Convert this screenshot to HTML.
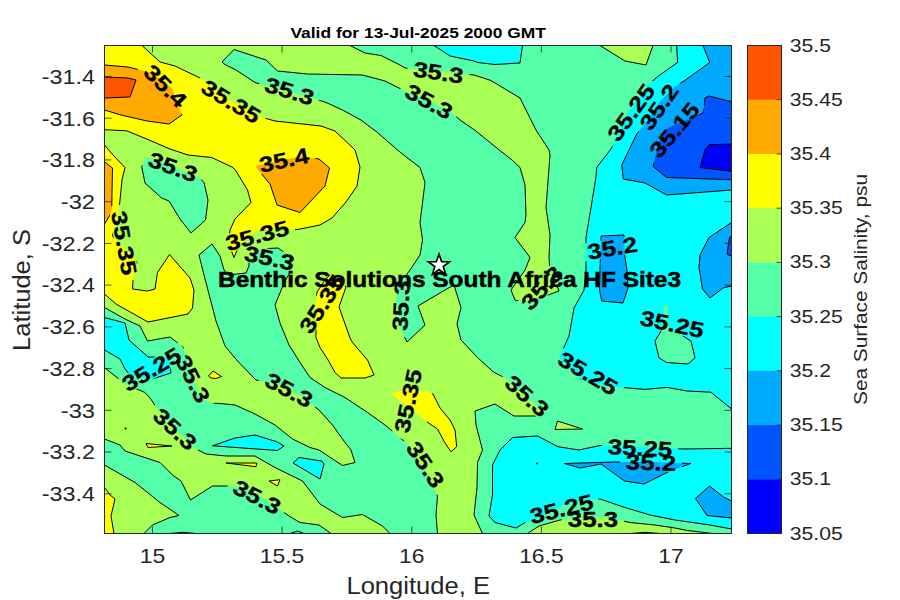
<!DOCTYPE html>
<html><head><meta charset="utf-8"><title>Sea Surface Salinity</title>
<style>
html,body{margin:0;padding:0;background:#fff;}
body{width:900px;height:600px;overflow:hidden;font-family:"Liberation Sans",sans-serif;}
svg{display:block;}
text{font-family:"Liberation Sans",sans-serif;}
.tk{font-size:20.6px;fill:#262626;}
.cl{font-size:21.6px;font-weight:bold;fill:#000;stroke:#000;stroke-width:0.3px;}
</style></head><body>
<svg width="900" height="600" viewBox="0 0 900 600">
<rect x="0" y="0" width="900" height="600" fill="#ffffff"/>
<defs>
<clipPath id="pc"><rect x="104.5" y="45.5" width="627.0" height="488.0"/></clipPath>
<mask id="lm" maskUnits="userSpaceOnUse" x="0" y="0" width="900" height="600"><rect x="0" y="0" width="900" height="600" fill="#fff"/>
<rect x="134.3" y="77.0" width="62.3" height="18.0" fill="#000" transform="rotate(45 165.5 86.0)"/>
<rect x="192.7" y="92.5" width="76.5" height="18.0" fill="#000" transform="rotate(31 231.0 101.5)"/>
<rect x="258.3" y="82.0" width="62.3" height="18.0" fill="#000" transform="rotate(17 289.5 91.0)"/>
<rect x="407.2" y="63.4" width="62.3" height="18.0" fill="#000" transform="rotate(8.5 438.4 72.4)"/>
<rect x="397.8" y="92.5" width="62.3" height="18.0" fill="#000" transform="rotate(29 429.0 101.5)"/>
<rect x="592.7" y="103.5" width="76.5" height="18.0" fill="#000" transform="rotate(-54 631.0 112.5)"/>
<rect x="627.8" y="98.0" width="62.3" height="18.0" fill="#000" transform="rotate(-55 659.0 107.0)"/>
<rect x="636.2" y="121.0" width="76.5" height="18.0" fill="#000" transform="rotate(-50 674.5 130.0)"/>
<rect x="141.8" y="158.0" width="62.3" height="18.0" fill="#000" transform="rotate(20 173.0 167.0)"/>
<rect x="252.8" y="151.0" width="62.3" height="18.0" fill="#000" transform="rotate(-12 284.0 160.0)"/>
<rect x="85.7" y="234.0" width="76.5" height="18.0" fill="#000" transform="rotate(80 124.0 243.0)"/>
<rect x="218.9" y="226.5" width="76.5" height="18.0" fill="#000" transform="rotate(-15 257.2 235.5)"/>
<rect x="238.3" y="249.0" width="62.3" height="18.0" fill="#000" transform="rotate(12 269.5 258.0)"/>
<rect x="283.7" y="295.0" width="76.5" height="18.0" fill="#000" transform="rotate(-57 322.0 304.0)"/>
<rect x="369.8" y="296.5" width="62.3" height="18.0" fill="#000" transform="rotate(-87 401.0 305.5)"/>
<rect x="510.8" y="279.0" width="62.3" height="18.0" fill="#000" transform="rotate(-48 542.0 288.0)"/>
<rect x="581.1" y="239.0" width="62.3" height="18.0" fill="#000" transform="rotate(-9.6 612.3 248.0)"/>
<rect x="633.7" y="315.0" width="76.5" height="18.0" fill="#000" transform="rotate(12 672.0 324.0)"/>
<rect x="113.2" y="360.5" width="76.5" height="18.0" fill="#000" transform="rotate(-31 151.5 369.5)"/>
<rect x="161.8" y="370.0" width="62.3" height="18.0" fill="#000" transform="rotate(63 193.0 379.0)"/>
<rect x="143.8" y="420.0" width="62.3" height="18.0" fill="#000" transform="rotate(43 175.0 429.0)"/>
<rect x="257.8" y="381.0" width="62.3" height="18.0" fill="#000" transform="rotate(28 289.0 390.0)"/>
<rect x="369.7" y="392.0" width="76.5" height="18.0" fill="#000" transform="rotate(-78 408.0 401.0)"/>
<rect x="394.3" y="455.5" width="62.3" height="18.0" fill="#000" transform="rotate(56.5 425.5 464.5)"/>
<rect x="495.8" y="387.0" width="62.3" height="18.0" fill="#000" transform="rotate(42 527.0 396.0)"/>
<rect x="549.7" y="364.3" width="76.5" height="18.0" fill="#000" transform="rotate(30.5 588.0 373.3)"/>
<rect x="225.8" y="488.0" width="62.3" height="18.0" fill="#000" transform="rotate(27 257.0 497.0)"/>
<rect x="601.7" y="439.0" width="76.5" height="18.0" fill="#000" transform="rotate(3 640.0 448.0)"/>
<rect x="619.8" y="453.5" width="62.3" height="18.0" fill="#000" transform="rotate(2 651.0 462.5)"/>
<rect x="523.2" y="500.0" width="76.5" height="18.0" fill="#000" transform="rotate(-14 561.5 509.0)"/>
<rect x="561.8" y="510.0" width="62.3" height="18.0" fill="#000" transform="rotate(0 593.0 519.0)"/>
<polyline points="427,422 415,411.7 391,394 401.7,390 426.7,391 432,393.5" fill="none" stroke="#000" stroke-width="4"/>
<polyline points="661.7,330 664,318 663,307.5 666,303.3 668,307.5 668,325 673,330 683,336" fill="none" stroke="#000" stroke-width="4"/>
</mask></defs>
<g clip-path="url(#pc)">
<rect x="104.5" y="45.5" width="627.0" height="488.0" fill="#AAFF55"/>
<polygon fill="#55FFAA" points="350,45.5 731.5,45.5 731.5,533.5 712.5,533.5 687.5,530.5 675,528 655,525 630,522.5 610,518 590,516.5 560,520 539,526 527.5,533.5 482.5,533.5 474,515 477,487.5 477.5,462.5 482.5,450 476,425 475,411 495,404 514,416 535,416 545,413 505,378 493,371.7 477.5,357.5 461,340 457,324 461,307.5 454,285 445,290 418,306 425,325 407,342 400,328 396,300 398,286 410,270 420,255 422.5,240 420,222.5 425,182.5 420,167.5 405,156 397.5,150 377.5,132.5 361,120 342.5,110 325,102 290,92 255,82.5 236,70 225,64.5 222,62 234,49.5 266,60 277.5,71 307.5,74 362.5,75 385,81 405,91 428,101 450,111 460,120 476,131 498,149 512,160 520,167.5 525,185 526,215 525,222.5 515,237.5 530,257.5 525,270 511,290 515,300 526,303 559,291 550,269 549,257.5 550,235 546,207.5 550,155 549,150 536,130 520,98 491,80.5 474,75 438,71 405,68 400,65 381,55.5 365,53"/>
<polygon fill="#55FFAA" points="212,244 220,256 224,270 228,275 246,273 249,266 249,262 256,249 278,248 288,255 294,265 284,283 275,305 280,323 289,345 300,362.5 310,377.5 325,387.5 345,397.5 367.5,412.5 385,425 407.5,444 410,450 425,470 437.5,496 436,515 437.5,533.5 390,533.5 382.5,526 362.5,514.5 342.5,517.5 320,504 302.5,481 275,467.5 255,456 226,456 206,454 196,449 175,429 157,408 150,398 145,392.5 125,384 104.5,367.5 104.5,307.5 125,319 140,326 147.5,341 170,337 183,347 186,354 193,379 202,399 213,403 225,404 235,405 255,414 275,425 292.5,439 310,447.5 319,450 342.5,465.5 355,462.5 351,450 345,442.5 332.5,425 319,410 287,386 256,380 237.5,361 225,346 216,321 204,275 199,255"/>
<polygon fill="#55FFAA" points="104.5,439 120,445 125,451 160,462.5 172.5,475 181,481 190.5,500 212.5,486 225,486 240,486.5 257,494 275,506 289,516 300,522.5 319,525 331,533.5 144,533.5 152.5,525 170,517.5 179,515.5 160,502.5 135,482.5 104.5,465"/>
<polygon fill="#55FFAA" points="146.7,156.7 141.7,166.7 145,183 161.7,198 169,201 180,219 191,233 205.5,220 208,200 204,182.5 200,178"/>
<polygon fill="#AAFF55" points="600,45.5 625,61 646,65 653,45.5"/>
<polygon fill="#AAFF55" points="557.5,421 582.5,429 555,429.5"/>
<polygon fill="#FFFF00" points="104.5,45.5 142,45.5 160,62 175,66 200,78 231,101 262.5,117.5 275,121 321,126 335,131 355,150 360,167 357,186 346,202 332,218 320,225 297.5,229.5 275,229 256,231 246,238 238,248 234,257.5 229,245 230,230 235,219 251,202.5 247.5,190 236,171 233,167.5 211.7,157.5 188,155 170,149 145,138.3 126.7,130.8 104.5,129.7"/>
<polygon fill="#FFFF00" points="104.5,145 113,155 125,167.5 122,180 119,210 112.5,236 137,262 133,280 132.6,289 147.5,291 155,289 157.5,272.5 169.5,254.5 190,278 194,290 192.5,308 188,314 148,322 116,304 104.5,294"/>
<polygon fill="#FFFF00" points="104.5,487.5 110,495 115,499 111,516 114,533.5 104.5,533.5"/>
<polygon fill="#FFFF00" points="333,272 346,287 339,307 350,338 352.5,342.5 367.5,360 374,375 365,378 341,378 335,372.5 327.5,359 320,347.5 316,337.5 316,330 315,310 317,292 325,280"/>
<polygon fill="#FFFF00" points="391,394 401.7,390 426.7,391 433,394 440,408 450,420 455,430 456.7,446.7 451,451.7 445,443 437.5,429 426.7,421.7 415,411.7"/>
<polygon fill="#FFFF00" points="208.5,376 213,371 221.5,376.5 216,378.5 211,378"/>
<polygon fill="#FFFF00" points="146,443.5 172,446 148,447.5"/>
<polygon fill="#FFFF00" points="226,463 256.7,463 256,466.7"/>
<polygon fill="#FFFF00" points="269,481 280,479.7 277.5,486"/>
<polygon fill="#FFAA00" points="104.5,65 128,67 140,70 152,73 172,88 182,115 169,124 147,121 121,115 104.5,110"/>
<polygon fill="#FFAA00" points="104.5,161.7 112.5,168 111.7,210 110,215 104.5,224"/>
<polygon fill="#FFAA00" points="255,166 270,184 277,205 300,212.5 325,186 329.5,168 319,159 300,156.5"/>
<polygon fill="#FF5500" points="104.5,77 128,78 136,80 130,97 104.5,98"/>
<polygon fill="#00FFFF" points="434,45.5 450,56 474,61 477.5,62.5 495,64.5 520,63 522.5,45.5"/>
<polygon fill="#00FFFF" points="104.5,317.5 125,323 129,340 148,357 169,357.5 171,373 152,379 130,375 125,369 120,359 104.5,350"/>
<polygon fill="#00FFFF" points="212.5,445.8 235,438 255,435 276.7,441.7 284,446 277.5,450.5"/>
<polygon fill="#00FFFF" points="293,463 299,457.5 321.7,461 324,464 320,479"/>
<polygon fill="#00FFFF" points="290,533.5 297.5,531 304,533.5"/>
<polygon fill="#00FFFF" points="676.7,45.5 677.5,62.5 657.5,76.7 648,85 628,113 611,149 596.7,167.5 596,176.7 591,207.5 586,237.5 586,270 584,290 574,308 569,336 562.7,350 558.7,358 580.7,379.3 604.7,386 626,387.8 645,389.4 667,387.4 687,391 711,392.2 731.5,409 731.5,45.5"/>
<polygon fill="#55FFAA" points="666,303.3 663,307.5 664,318 661.7,330 655,341 659,358 666.7,362.5 688,364 695,358 691,341 683,336 673,330 668,325 668,307.5"/>
<polygon fill="#00FFFF" points="500,450 512.5,437.5 537.5,436 558,446.7 579,450 600,445.5 640,447 684,449 731.5,448.3 731.5,529 710,525 675,520 650,515 625,507.5 600,499 585,499.5 565,504 545,514 525,522.5 516,528 495,522.5 489,516 492.5,495 492.5,465"/>
<polygon fill="#00AAFF" points="703,45.5 709.7,62.5 684,81 673,88 660,101.7 648,120 636.7,134 621.7,165 623.3,179 645,183 666.7,195 731.5,190 731.5,45.5"/>
<polygon fill="#00AAFF" points="601,236 624,235 625,257.5 627,270 628,288 623,303 601.7,301 599.5,290 600,270"/>
<polygon fill="#00AAFF" points="731.5,222.5 709,237.5 700,255 699,267.5 702.5,289 710,298 723,288 731.5,286"/>
<polygon fill="#00AAFF" points="564.5,463.5 580,468 601,464 624.5,481 644,484 670,471 691,463.5 650,462 614,462"/>
<polygon fill="#00AAFF" points="695.5,498.5 709.5,486 723.5,497 731.5,501 731.5,518 707,515.5"/>
<polygon fill="#0055FF" points="731.5,101.7 709,96 705,98 704,106.7 703,113 693,117.5 670,126.7 661.7,133 655,157.5 653.3,166.7 666.7,177.5 731.5,179.7"/>
<polygon fill="#0055FF" points="731.5,236 729.5,237.5 727,254 731.5,256"/>
<polygon fill="#0000FF" points="731.5,144 709,144.7 705,150 700,167.5 731.5,171.3"/>
<polygon fill="#55FFAA" points="169,533.5 183,532.3 196,533.5"/>
<polygon fill="#55FFAA" points="630,533.5 645,532.3 660,533.5"/>
<g mask="url(#lm)" fill="none" stroke="#000" stroke-width="1" stroke-linejoin="round">
<polygon points="350,45.5 731.5,45.5 731.5,533.5 712.5,533.5 687.5,530.5 675,528 655,525 630,522.5 610,518 590,516.5 560,520 539,526 527.5,533.5 482.5,533.5 474,515 477,487.5 477.5,462.5 482.5,450 476,425 475,411 495,404 514,416 535,416 545,413 505,378 493,371.7 477.5,357.5 461,340 457,324 461,307.5 454,285 445,290 418,306 425,325 407,342 400,328 396,300 398,286 410,270 420,255 422.5,240 420,222.5 425,182.5 420,167.5 405,156 397.5,150 377.5,132.5 361,120 342.5,110 325,102 290,92 255,82.5 236,70 225,64.5 222,62 234,49.5 266,60 277.5,71 307.5,74 362.5,75 385,81 405,91 428,101 450,111 460,120 476,131 498,149 512,160 520,167.5 525,185 526,215 525,222.5 515,237.5 530,257.5 525,270 511,290 515,300 526,303 559,291 550,269 549,257.5 550,235 546,207.5 550,155 549,150 536,130 520,98 491,80.5 474,75 438,71 405,68 400,65 381,55.5 365,53"/>
<polygon points="212,244 220,256 224,270 228,275 246,273 249,266 249,262 256,249 278,248 288,255 294,265 284,283 275,305 280,323 289,345 300,362.5 310,377.5 325,387.5 345,397.5 367.5,412.5 385,425 407.5,444 410,450 425,470 437.5,496 436,515 437.5,533.5 390,533.5 382.5,526 362.5,514.5 342.5,517.5 320,504 302.5,481 275,467.5 255,456 226,456 206,454 196,449 175,429 157,408 150,398 145,392.5 125,384 104.5,367.5 104.5,307.5 125,319 140,326 147.5,341 170,337 183,347 186,354 193,379 202,399 213,403 225,404 235,405 255,414 275,425 292.5,439 310,447.5 319,450 342.5,465.5 355,462.5 351,450 345,442.5 332.5,425 319,410 287,386 256,380 237.5,361 225,346 216,321 204,275 199,255"/>
<polygon points="104.5,439 120,445 125,451 160,462.5 172.5,475 181,481 190.5,500 212.5,486 225,486 240,486.5 257,494 275,506 289,516 300,522.5 319,525 331,533.5 144,533.5 152.5,525 170,517.5 179,515.5 160,502.5 135,482.5 104.5,465"/>
<polygon points="146.7,156.7 141.7,166.7 145,183 161.7,198 169,201 180,219 191,233 205.5,220 208,200 204,182.5 200,178"/>
<polygon points="600,45.5 625,61 646,65 653,45.5"/>
<polygon points="557.5,421 582.5,429 555,429.5"/>
<polygon points="104.5,45.5 142,45.5 160,62 175,66 200,78 231,101 262.5,117.5 275,121 321,126 335,131 355,150 360,167 357,186 346,202 332,218 320,225 297.5,229.5 275,229 256,231 246,238 238,248 234,257.5 229,245 230,230 235,219 251,202.5 247.5,190 236,171 233,167.5 211.7,157.5 188,155 170,149 145,138.3 126.7,130.8 104.5,129.7"/>
<polygon points="104.5,145 113,155 125,167.5 122,180 119,210 112.5,236 137,262 133,280 132.6,289 147.5,291 155,289 157.5,272.5 169.5,254.5 190,278 194,290 192.5,308 188,314 148,322 116,304 104.5,294"/>
<polygon points="104.5,487.5 110,495 115,499 111,516 114,533.5 104.5,533.5"/>
<polygon points="333,272 346,287 339,307 350,338 352.5,342.5 367.5,360 374,375 365,378 341,378 335,372.5 327.5,359 320,347.5 316,337.5 316,330 315,310 317,292 325,280"/>
<polygon points="391,394 401.7,390 426.7,391 433,394 440,408 450,420 455,430 456.7,446.7 451,451.7 445,443 437.5,429 426.7,421.7 415,411.7"/>
<polygon points="208.5,376 213,371 221.5,376.5 216,378.5 211,378"/>
<polygon points="146,443.5 172,446 148,447.5"/>
<polygon points="226,463 256.7,463 256,466.7"/>
<polygon points="269,481 280,479.7 277.5,486"/>
<polygon points="104.5,65 128,67 140,70 152,73 172,88 182,115 169,124 147,121 121,115 104.5,110"/>
<polygon points="104.5,161.7 112.5,168 111.7,210 110,215 104.5,224"/>
<polygon points="255,166 270,184 277,205 300,212.5 325,186 329.5,168 319,159 300,156.5"/>
<polygon points="104.5,77 128,78 136,80 130,97 104.5,98"/>
<polygon points="434,45.5 450,56 474,61 477.5,62.5 495,64.5 520,63 522.5,45.5"/>
<polygon points="104.5,317.5 125,323 129,340 148,357 169,357.5 171,373 152,379 130,375 125,369 120,359 104.5,350"/>
<polygon points="212.5,445.8 235,438 255,435 276.7,441.7 284,446 277.5,450.5"/>
<polygon points="293,463 299,457.5 321.7,461 324,464 320,479"/>
<polygon points="290,533.5 297.5,531 304,533.5"/>
<polygon points="676.7,45.5 677.5,62.5 657.5,76.7 648,85 628,113 611,149 596.7,167.5 596,176.7 591,207.5 586,237.5 586,270 584,290 574,308 569,336 562.7,350 558.7,358 580.7,379.3 604.7,386 626,387.8 645,389.4 667,387.4 687,391 711,392.2 731.5,409 731.5,45.5"/>
<polygon points="666,303.3 663,307.5 664,318 661.7,330 655,341 659,358 666.7,362.5 688,364 695,358 691,341 683,336 673,330 668,325 668,307.5"/>
<polygon points="500,450 512.5,437.5 537.5,436 558,446.7 579,450 600,445.5 640,447 684,449 731.5,448.3 731.5,529 710,525 675,520 650,515 625,507.5 600,499 585,499.5 565,504 545,514 525,522.5 516,528 495,522.5 489,516 492.5,495 492.5,465"/>
<polygon points="703,45.5 709.7,62.5 684,81 673,88 660,101.7 648,120 636.7,134 621.7,165 623.3,179 645,183 666.7,195 731.5,190 731.5,45.5"/>
<polygon points="601,236 624,235 625,257.5 627,270 628,288 623,303 601.7,301 599.5,290 600,270"/>
<polygon points="731.5,222.5 709,237.5 700,255 699,267.5 702.5,289 710,298 723,288 731.5,286"/>
<polygon points="564.5,463.5 580,468 601,464 624.5,481 644,484 670,471 691,463.5 650,462 614,462"/>
<polygon points="695.5,498.5 709.5,486 723.5,497 731.5,501 731.5,518 707,515.5"/>
<polygon points="731.5,101.7 709,96 705,98 704,106.7 703,113 693,117.5 670,126.7 661.7,133 655,157.5 653.3,166.7 666.7,177.5 731.5,179.7"/>
<polygon points="731.5,236 729.5,237.5 727,254 731.5,256"/>
<polygon points="731.5,144 709,144.7 705,150 700,167.5 731.5,171.3"/>
<polygon points="169,533.5 183,532.3 196,533.5"/>
<polygon points="630,533.5 645,532.3 660,533.5"/>
</g>
<circle cx="125.6" cy="428.4" r="1" fill="#000"/><circle cx="537" cy="463.4" r="1" fill="#000"/>
<text class="cl" x="165.5" y="93.6" text-anchor="middle" textLength="50.3" lengthAdjust="spacingAndGlyphs" transform="rotate(45 165.5 86.0)">35.4</text>
<text class="cl" x="231.0" y="109.1" text-anchor="middle" textLength="64.5" lengthAdjust="spacingAndGlyphs" transform="rotate(31 231.0 101.5)">35.35</text>
<text class="cl" x="289.5" y="98.6" text-anchor="middle" textLength="50.3" lengthAdjust="spacingAndGlyphs" transform="rotate(17 289.5 91.0)">35.3</text>
<text class="cl" x="438.4" y="80.0" text-anchor="middle" textLength="50.3" lengthAdjust="spacingAndGlyphs" transform="rotate(8.5 438.4 72.4)">35.3</text>
<text class="cl" x="429.0" y="109.1" text-anchor="middle" textLength="50.3" lengthAdjust="spacingAndGlyphs" transform="rotate(29 429.0 101.5)">35.3</text>
<text class="cl" x="631.0" y="120.1" text-anchor="middle" textLength="64.5" lengthAdjust="spacingAndGlyphs" transform="rotate(-54 631.0 112.5)">35.25</text>
<text class="cl" x="659.0" y="114.6" text-anchor="middle" textLength="50.3" lengthAdjust="spacingAndGlyphs" transform="rotate(-55 659.0 107.0)">35.2</text>
<text class="cl" x="674.5" y="137.6" text-anchor="middle" textLength="64.5" lengthAdjust="spacingAndGlyphs" transform="rotate(-50 674.5 130.0)">35.15</text>
<text class="cl" x="173.0" y="174.6" text-anchor="middle" textLength="50.3" lengthAdjust="spacingAndGlyphs" transform="rotate(20 173.0 167.0)">35.3</text>
<text class="cl" x="284.0" y="167.6" text-anchor="middle" textLength="50.3" lengthAdjust="spacingAndGlyphs" transform="rotate(-12 284.0 160.0)">35.4</text>
<text class="cl" x="124.0" y="250.6" text-anchor="middle" textLength="64.5" lengthAdjust="spacingAndGlyphs" transform="rotate(80 124.0 243.0)">35.35</text>
<text class="cl" x="257.2" y="243.1" text-anchor="middle" textLength="64.5" lengthAdjust="spacingAndGlyphs" transform="rotate(-15 257.2 235.5)">35.35</text>
<text class="cl" x="269.5" y="265.6" text-anchor="middle" textLength="50.3" lengthAdjust="spacingAndGlyphs" transform="rotate(12 269.5 258.0)">35.3</text>
<text class="cl" x="322.0" y="311.6" text-anchor="middle" textLength="64.5" lengthAdjust="spacingAndGlyphs" transform="rotate(-57 322.0 304.0)">35.35</text>
<text class="cl" x="401.0" y="313.1" text-anchor="middle" textLength="50.3" lengthAdjust="spacingAndGlyphs" transform="rotate(-87 401.0 305.5)">35.3</text>
<text class="cl" x="542.0" y="295.6" text-anchor="middle" textLength="50.3" lengthAdjust="spacingAndGlyphs" transform="rotate(-48 542.0 288.0)">35.3</text>
<text class="cl" x="612.3" y="255.6" text-anchor="middle" textLength="50.3" lengthAdjust="spacingAndGlyphs" transform="rotate(-9.6 612.3 248.0)">35.2</text>
<text class="cl" x="672.0" y="331.6" text-anchor="middle" textLength="64.5" lengthAdjust="spacingAndGlyphs" transform="rotate(12 672.0 324.0)">35.25</text>
<text class="cl" x="151.5" y="377.1" text-anchor="middle" textLength="64.5" lengthAdjust="spacingAndGlyphs" transform="rotate(-31 151.5 369.5)">35.25</text>
<text class="cl" x="193.0" y="386.6" text-anchor="middle" textLength="50.3" lengthAdjust="spacingAndGlyphs" transform="rotate(63 193.0 379.0)">35.3</text>
<text class="cl" x="175.0" y="436.6" text-anchor="middle" textLength="50.3" lengthAdjust="spacingAndGlyphs" transform="rotate(43 175.0 429.0)">35.3</text>
<text class="cl" x="289.0" y="397.6" text-anchor="middle" textLength="50.3" lengthAdjust="spacingAndGlyphs" transform="rotate(28 289.0 390.0)">35.3</text>
<text class="cl" x="408.0" y="408.6" text-anchor="middle" textLength="64.5" lengthAdjust="spacingAndGlyphs" transform="rotate(-78 408.0 401.0)">35.35</text>
<text class="cl" x="425.5" y="472.1" text-anchor="middle" textLength="50.3" lengthAdjust="spacingAndGlyphs" transform="rotate(56.5 425.5 464.5)">35.3</text>
<text class="cl" x="527.0" y="403.6" text-anchor="middle" textLength="50.3" lengthAdjust="spacingAndGlyphs" transform="rotate(42 527.0 396.0)">35.3</text>
<text class="cl" x="588.0" y="380.9" text-anchor="middle" textLength="64.5" lengthAdjust="spacingAndGlyphs" transform="rotate(30.5 588.0 373.3)">35.25</text>
<text class="cl" x="257.0" y="504.6" text-anchor="middle" textLength="50.3" lengthAdjust="spacingAndGlyphs" transform="rotate(27 257.0 497.0)">35.3</text>
<text class="cl" x="640.0" y="455.6" text-anchor="middle" textLength="64.5" lengthAdjust="spacingAndGlyphs" transform="rotate(3 640.0 448.0)">35.25</text>
<text class="cl" x="651.0" y="470.1" text-anchor="middle" textLength="50.3" lengthAdjust="spacingAndGlyphs" transform="rotate(2 651.0 462.5)">35.2</text>
<text class="cl" x="561.5" y="516.6" text-anchor="middle" textLength="64.5" lengthAdjust="spacingAndGlyphs" transform="rotate(-14 561.5 509.0)">35.25</text>
<text class="cl" x="593.0" y="526.6" text-anchor="middle" textLength="50.3" lengthAdjust="spacingAndGlyphs" transform="rotate(0 593.0 519.0)">35.3</text>
</g>
<polygon points="439.0,253.9 441.6,261.6 449.7,261.7 443.2,266.6 445.6,274.3 439.0,269.6 432.4,274.3 434.8,266.6 428.3,261.7 436.4,261.6" fill="#fff" stroke="#000" stroke-width="1.6" stroke-linejoin="miter"/>
<text x="449.5" y="286.8" text-anchor="middle" textLength="463" lengthAdjust="spacingAndGlyphs" style="font-size:22px;font-weight:bold;fill:#000;stroke:#000;stroke-width:0.5px">Benthic Solutions South Africa HF Site3</text>
<rect x="104.5" y="45.5" width="627.0" height="488.0" fill="none" stroke="#262626" stroke-width="1"/>
<path d="M152.5 533.5v-7M152.5 45.5v7M282.1 533.5v-7M282.1 45.5v7M411.8 533.5v-7M411.8 45.5v7M541.4 533.5v-7M541.4 45.5v7M671.0 533.5v-7M671.0 45.5v7M104.5 76.5h7M731.5 76.5h-7M104.5 118.2h7M731.5 118.2h-7M104.5 159.9h7M731.5 159.9h-7M104.5 201.7h7M731.5 201.7h-7M104.5 243.4h7M731.5 243.4h-7M104.5 285.1h7M731.5 285.1h-7M104.5 326.9h7M731.5 326.9h-7M104.5 368.6h7M731.5 368.6h-7M104.5 410.3h7M731.5 410.3h-7M104.5 452.0h7M731.5 452.0h-7M104.5 493.8h7M731.5 493.8h-7" stroke="#262626" stroke-width="0.8" fill="none"/>
<text class="tk" x="152.5" y="563.2" text-anchor="middle" textLength="25.4" lengthAdjust="spacingAndGlyphs">15</text>
<text class="tk" x="282.1" y="563.2" text-anchor="middle" textLength="44.5" lengthAdjust="spacingAndGlyphs">15.5</text>
<text class="tk" x="411.8" y="563.2" text-anchor="middle" textLength="25.4" lengthAdjust="spacingAndGlyphs">16</text>
<text class="tk" x="541.4" y="563.2" text-anchor="middle" textLength="44.5" lengthAdjust="spacingAndGlyphs">16.5</text>
<text class="tk" x="671.0" y="563.2" text-anchor="middle" textLength="25.4" lengthAdjust="spacingAndGlyphs">17</text>
<text class="tk" x="95.0" y="83.8" text-anchor="end" textLength="53.2" lengthAdjust="spacingAndGlyphs">-31.4</text>
<text class="tk" x="95.0" y="125.5" text-anchor="end" textLength="53.2" lengthAdjust="spacingAndGlyphs">-31.6</text>
<text class="tk" x="95.0" y="167.2" text-anchor="end" textLength="53.2" lengthAdjust="spacingAndGlyphs">-31.8</text>
<text class="tk" x="95.0" y="209.0" text-anchor="end" textLength="34.2" lengthAdjust="spacingAndGlyphs">-32</text>
<text class="tk" x="95.0" y="250.7" text-anchor="end" textLength="53.2" lengthAdjust="spacingAndGlyphs">-32.2</text>
<text class="tk" x="95.0" y="292.4" text-anchor="end" textLength="53.2" lengthAdjust="spacingAndGlyphs">-32.4</text>
<text class="tk" x="95.0" y="334.2" text-anchor="end" textLength="53.2" lengthAdjust="spacingAndGlyphs">-32.6</text>
<text class="tk" x="95.0" y="375.9" text-anchor="end" textLength="53.2" lengthAdjust="spacingAndGlyphs">-32.8</text>
<text class="tk" x="95.0" y="417.6" text-anchor="end" textLength="34.2" lengthAdjust="spacingAndGlyphs">-33</text>
<text class="tk" x="95.0" y="459.3" text-anchor="end" textLength="53.2" lengthAdjust="spacingAndGlyphs">-33.2</text>
<text class="tk" x="95.0" y="501.1" text-anchor="end" textLength="53.2" lengthAdjust="spacingAndGlyphs">-33.4</text>
<text x="418.2" y="594" text-anchor="middle" textLength="143.5" lengthAdjust="spacingAndGlyphs" style="font-size:24.2px;fill:#262626">Longitude, E</text>
<text x="30" y="290" text-anchor="middle" textLength="122" lengthAdjust="spacingAndGlyphs" transform="rotate(-90 30 290)" style="font-size:24.2px;fill:#262626">Latitude, S</text>
<text x="418.2" y="37.5" text-anchor="middle" textLength="255.5" lengthAdjust="spacingAndGlyphs" style="font-size:14.7px;font-weight:bold;fill:#000">Valid for 13-Jul-2025 2000 GMT</text>
<rect x="747.5" y="45.50" width="34.0" height="54.52" fill="#FF5500"/>
<rect x="747.5" y="99.72" width="34.0" height="54.52" fill="#FFAA00"/>
<rect x="747.5" y="153.94" width="34.0" height="54.52" fill="#FFFF00"/>
<rect x="747.5" y="208.17" width="34.0" height="54.52" fill="#AAFF55"/>
<rect x="747.5" y="262.39" width="34.0" height="54.52" fill="#55FFAA"/>
<rect x="747.5" y="316.61" width="34.0" height="54.52" fill="#00FFFF"/>
<rect x="747.5" y="370.83" width="34.0" height="54.52" fill="#00AAFF"/>
<rect x="747.5" y="425.06" width="34.0" height="54.52" fill="#0055FF"/>
<rect x="747.5" y="479.28" width="34.0" height="54.52" fill="#0000FF"/>
<rect x="747.5" y="45.5" width="34.0" height="488.0" fill="none" stroke="#262626" stroke-width="1"/>
<text class="tk" x="789.8" y="51.5" style="font-size:19px" textLength="41.2" lengthAdjust="spacingAndGlyphs">35.5</text>
<text class="tk" x="789.8" y="105.7" style="font-size:19px" textLength="52.9" lengthAdjust="spacingAndGlyphs">35.45</text>
<text class="tk" x="789.8" y="159.9" style="font-size:19px" textLength="41.2" lengthAdjust="spacingAndGlyphs">35.4</text>
<text class="tk" x="789.8" y="214.2" style="font-size:19px" textLength="52.9" lengthAdjust="spacingAndGlyphs">35.35</text>
<text class="tk" x="789.8" y="268.4" style="font-size:19px" textLength="41.2" lengthAdjust="spacingAndGlyphs">35.3</text>
<text class="tk" x="789.8" y="322.6" style="font-size:19px" textLength="52.9" lengthAdjust="spacingAndGlyphs">35.25</text>
<text class="tk" x="789.8" y="376.8" style="font-size:19px" textLength="41.2" lengthAdjust="spacingAndGlyphs">35.2</text>
<text class="tk" x="789.8" y="431.1" style="font-size:19px" textLength="52.9" lengthAdjust="spacingAndGlyphs">35.15</text>
<text class="tk" x="789.8" y="485.3" style="font-size:19px" textLength="41.2" lengthAdjust="spacingAndGlyphs">35.1</text>
<text class="tk" x="789.8" y="539.5" style="font-size:19px" textLength="52.9" lengthAdjust="spacingAndGlyphs">35.05</text>
<path d="M781.5 99.7h-5M781.5 153.9h-5M781.5 208.2h-5M781.5 262.4h-5M781.5 316.6h-5M781.5 370.8h-5M781.5 425.1h-5M781.5 479.3h-5" stroke="#262626" stroke-width="0.8" fill="none"/>
<text x="867" y="289.5" text-anchor="middle" textLength="231" lengthAdjust="spacingAndGlyphs" transform="rotate(-90 867 289.5)" style="font-size:17.6px;fill:#262626">Sea Surface Salinity, psu</text>
</svg>
</body></html>
